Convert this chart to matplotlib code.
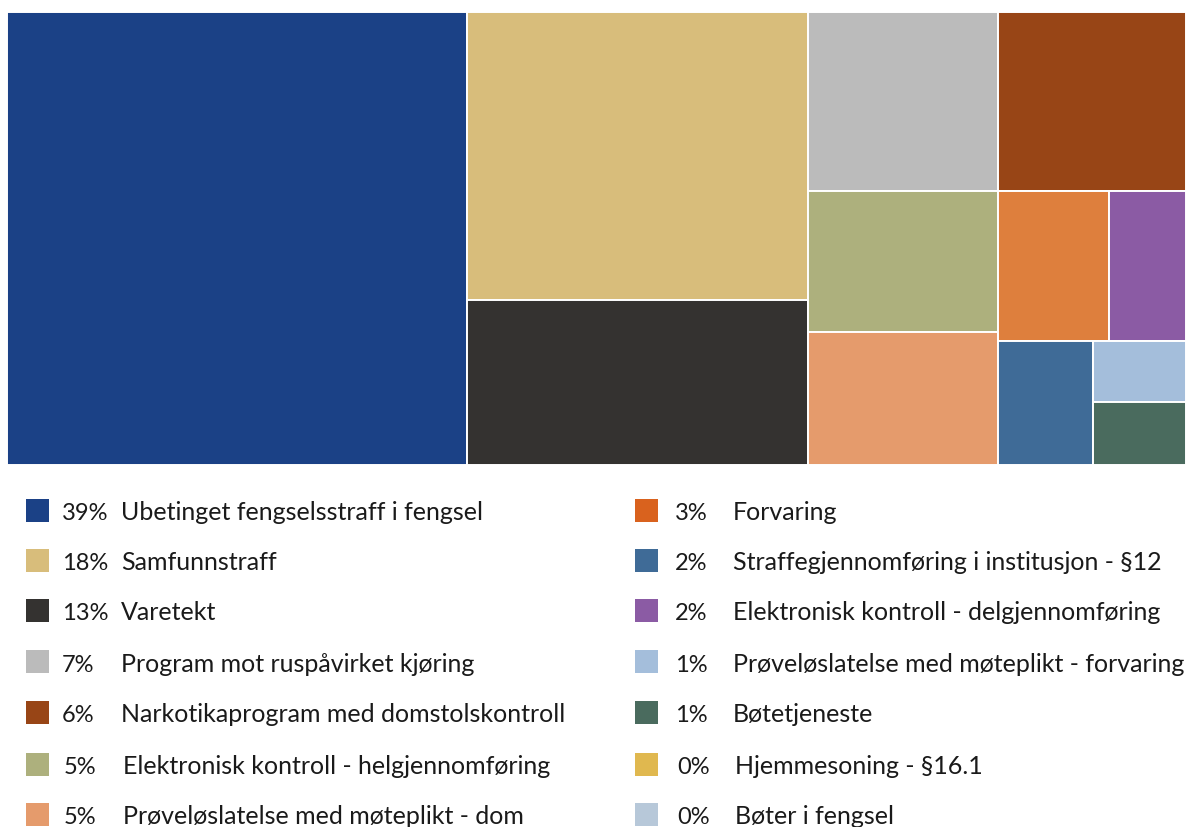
import matplotlib.pyplot as plt
from matplotlib.patches import Rectangle

# legend order (left column first, then right column)
labels = [
    "Ubetinget fengselsstraff i fengsel",
    "Samfunnstraff",
    "Varetekt",
    "Program mot ruspåvirket kjøring",
    "Narkotikaprogram med domstolskontroll",
    "Elektronisk kontroll - helgjennomføring",
    "Prøveløslatelse med møteplikt - dom",
    "Forvaring",
    "Straffegjennomføring i institusjon - §12",
    "Elektronisk kontroll - delgjennomføring",
    "Prøveløslatelse med møteplikt - forvaring",
    "Bøtetjeneste",
    "Hjemmesoning - §16.1",
    "Bøter i fengsel",
]
pct_labels = ["39%", "18%", "13%", "7%", "6%", "5%", "5%",
              "3%", "2%", "2%", "1%", "1%", "0%", "0%"]
# share of the treemap area (%), estimated from the tiles
values = [39.0, 18.4, 10.5, 6.37, 6.3, 5.02, 4.73,
          3.1, 2.2, 2.15, 1.06, 1.1, 0, 0]
colors = ["#1b4186", "#d8bd7b", "#343230", "#bbbbbb", "#984516", "#adb07d", "#e59b6c",
          "#d9621e", "#3f6b97", "#8b5ba4", "#a4bedb", "#4a6b5e", "#e0b84f", "#b7c8d9"]
tile_colors = list(colors)
tile_colors[7] = "#de7f3d"
# order in which the tiles are laid out
tile_order = [0, 1, 2, 3, 4, 5, 6, 7, 9, 8, 10, 11]


def worst(row, side):
    s = sum(row)
    return max(max(side * side * r / (s * s), s * s / (side * side * r)) for r in row)


def squarify(areas, x, y, w, h):
    rects = []
    areas = list(areas)
    while areas:
        side = min(w, h)
        row = [areas[0]]
        i = 1
        while i < len(areas) and worst(row + [areas[i]], side) <= worst(row, side):
            row.append(areas[i])
            i += 1
        areas = areas[i:]
        s = sum(row)
        if w >= h:
            cw = s / h
            yy = y
            for a in row:
                rects.append((x, yy, cw, a / cw))
                yy += a / cw
            x += cw
            w -= cw
        else:
            rh = s / w
            xx = x
            for a in row:
                rects.append((xx, y, a / rh, rh))
                xx += a / rh
            y += rh
            h -= rh
    return rects


fig = plt.figure(figsize=(11.9, 8.28), dpi=100)
plt.rcParams['font.family'] = ['Lato', 'DejaVu Sans']

ax = fig.add_axes([7 / 1190, 1 - 466 / 828, 1179 / 1190, 453 / 828])
W, H = 1179.0, 453.0
tot = sum(values[i] for i in tile_order)
areas = [values[i] / tot * W * H for i in tile_order]
for idx, (x, y, w, h) in zip(tile_order, squarify(areas, 0, 0, W, H)):
    ax.add_patch(Rectangle((x, y), w, h, facecolor=tile_colors[idx],
                           edgecolor="white", linewidth=1.4))
ax.set_xlim(0, W)
ax.set_ylim(H, 0)
ax.axis("off")

# legend
row_y = [511, 561, 611, 662, 713, 765, 815]
cols = [(26, 62, 121), (635, 675, 733)]
for k, lab in enumerate(labels):
    c = k // 7
    r = k % 7
    sx, px, lx = cols[c]
    if r >= 5:
        px += 2
        lx += 2
    yc = 1 - row_y[r] / 828
    yb = 1 - (row_y[r] + 9.5) / 828
    fig.add_artist(Rectangle((sx / 1190, yc - 11.5 / 828), 23 / 1190, 23 / 828,
                             facecolor=colors[k], edgecolor="none",
                             transform=fig.transFigure))
    fig.text(px / 1190, yb, pct_labels[k], fontsize=17, color="#1a1a1a", va="baseline")
    fig.text(lx / 1190, yb, lab, fontsize=18, color="#1a1a1a", va="baseline")

fig.savefig("out.png", dpi=100)
